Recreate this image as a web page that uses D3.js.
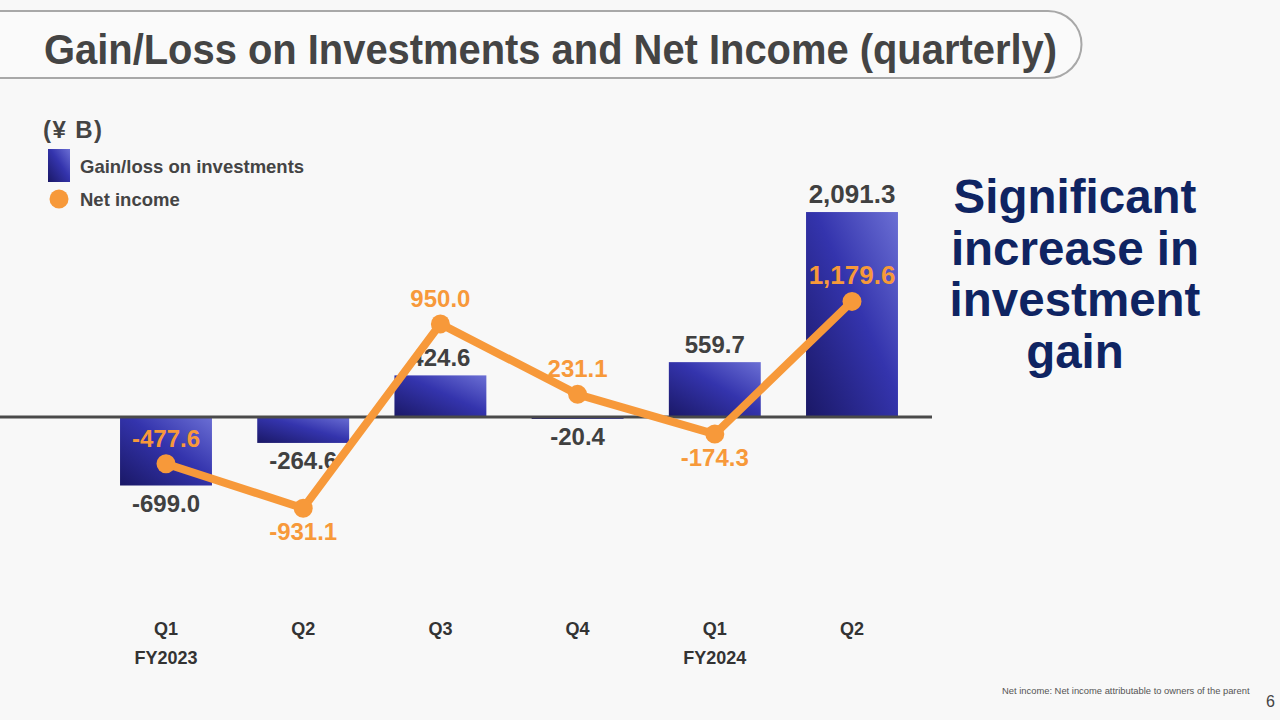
<!DOCTYPE html>
<html><head><meta charset="utf-8">
<script src="https://cdn.jsdelivr.net/npm/d3@7"></script>
<style>html,body{margin:0;padding:0;background:#f8f8f8;}svg{display:block;font-family:"Liberation Sans",Arial,sans-serif;}</style>
</head><body>
<svg id="c" width="1280" height="720"></svg>
<script>
const quarters = ["Q1","Q2","Q3","Q4","Q1","Q2"];
const fiscalYears = ["FY2023","","","","FY2024",""];
const gainLoss = [-699.0,-264.6,424.6,-20.4,559.7,2091.3];
const netIncome = [-477.6,-931.1,950.0,231.1,-174.3,1179.6];
const gainLabels = ["-699.0","-264.6","424.6","-20.4","559.7","2,091.3"];
const netLabels = ["-477.6","-931.1","950.0","231.1","-174.3","1,179.6"];
const netLabelPos = ["above","below","above","above","below","above"];

const svg = d3.select("#c");
const defs = svg.append("defs");
const g = defs.append("linearGradient").attr("id","barGrad").attr("x1","0").attr("y1","1").attr("x2","1").attr("y2","0");
g.append("stop").attr("offset","0%").attr("stop-color","#1a1866");
g.append("stop").attr("offset","55%").attr("stop-color","#3434ad");
g.append("stop").attr("offset","100%").attr("stop-color","#6b6fd4");

svg.append("rect").attr("width",1280).attr("height",720).attr("fill","#f8f8f8");

// title box
svg.append("path")
  .attr("d","M-10,11 H1048 A33.5,33.5 0 0 1 1048,78 H-10 Z")
  .attr("fill","#fafafa").attr("stroke","#a8a8a8").attr("stroke-width",2);
svg.append("text").attr("x",44).attr("y",64).text("Gain/Loss on Investments and Net Income (quarterly)")
  .attr("font-size",42).attr("font-weight","bold").attr("fill","#444")
  .attr("textLength",1013).attr("lengthAdjust","spacingAndGlyphs");

// scales
const x = d3.scaleBand().domain(d3.range(quarters.length)).range([97.4,920.6]).paddingInner(0.33).paddingOuter(0.165);
const y = d3.scaleLinear().domain([-1500,2500]).range([564,172]);
const fs = s => s.includes(",") ? 26 : 24;

// bars
svg.append("g").selectAll("rect").data(gainLoss).join("rect")
  .attr("x",(d,i)=>x(i)).attr("width",x.bandwidth())
  .attr("y",d=>y(Math.max(0,d))).attr("height",d=>Math.abs(y(d)-y(0)))
  .attr("fill","url(#barGrad)");

// baseline
svg.append("line").attr("x1",0).attr("x2",932).attr("y1",y(0)).attr("y2",y(0))
  .attr("stroke","#4a4a4a").attr("stroke-width",3);

// bar labels
svg.append("g").selectAll("text").data(gainLoss).join("text")
  .attr("x",(d,i)=>x(i)+x.bandwidth()/2)
  .attr("y",d=> d>=0 ? y(d)-9 : y(d)+26)
  .attr("text-anchor","middle").attr("font-size",(d,i)=>fs(gainLabels[i])).attr("font-weight","bold").attr("fill","#404040")
  .text((d,i)=>gainLabels[i]);

// line
const cx = i => x(i)+x.bandwidth()/2;
svg.append("path").datum(netIncome)
  .attr("d",d3.line().x((d,i)=>cx(i)).y(d=>y(d)))
  .attr("fill","none").attr("stroke","#f7993a").attr("stroke-width",8).attr("stroke-linejoin","round");
svg.append("g").selectAll("circle").data(netIncome).join("circle")
  .attr("cx",(d,i)=>cx(i)).attr("cy",d=>y(d)).attr("r",9.5).attr("fill","#f7993a");
svg.append("g").selectAll("text").data(netIncome).join("text")
  .attr("x",(d,i)=>cx(i))
  .attr("y",(d,i)=> netLabelPos[i]==="above" ? y(d)-17 : y(d)+32)
  .attr("text-anchor","middle").attr("font-size",(d,i)=>fs(netLabels[i])).attr("font-weight","bold").attr("fill","#f7993a")
  .text((d,i)=>netLabels[i]);

// x axis labels
const xa = svg.append("g");
xa.selectAll("text.q").data(quarters).join("text").attr("class","q")
  .attr("x",(d,i)=>cx(i)).attr("y",635).attr("text-anchor","middle")
  .attr("font-size",18).attr("font-weight","bold").attr("fill","#333").text(d=>d);
xa.selectAll("text.fy").data(fiscalYears).join("text").attr("class","fy")
  .attr("x",(d,i)=>cx(i)).attr("y",664).attr("text-anchor","middle")
  .attr("font-size",18).attr("font-weight","bold").attr("fill","#333").text(d=>d);

// unit + legend
svg.append("text").attr("x",43).attr("y",138).text("(¥ B)").attr("font-size",24).attr("font-weight","bold").attr("fill","#444")
  .attr("textLength",59).attr("lengthAdjust","spacing");
svg.append("rect").attr("x",48).attr("y",149).attr("width",22).attr("height",33).attr("fill","url(#barGrad)");
svg.append("text").attr("x",80).attr("y",173).text("Gain/loss on investments").attr("font-size",18.5).attr("font-weight","bold").attr("fill","#444");
svg.append("circle").attr("cx",59).attr("cy",199).attr("r",9.5).attr("fill","#f7993a");
svg.append("text").attr("x",80).attr("y",206).text("Net income").attr("font-size",18.5).attr("font-weight","bold").attr("fill","#444");

// callout
const callout = ["Significant","increase in","investment","gain"];
svg.append("g").selectAll("text").data(callout).join("text")
  .attr("x",1075).attr("y",(d,i)=>213+i*51.5).attr("text-anchor","middle")
  .attr("font-size",47.5).attr("font-weight","bold").attr("fill","#0f2462").text(d=>d);

// footnote
svg.append("text").attr("x",1002).attr("y",694).text("Net income: Net income attributable to owners of the parent")
  .attr("font-size",9.4).attr("fill","#555");
svg.append("text").attr("x",1275).attr("y",707).attr("text-anchor","end").text("6").attr("font-size",16).attr("fill","#444");
</script>
</body></html>
